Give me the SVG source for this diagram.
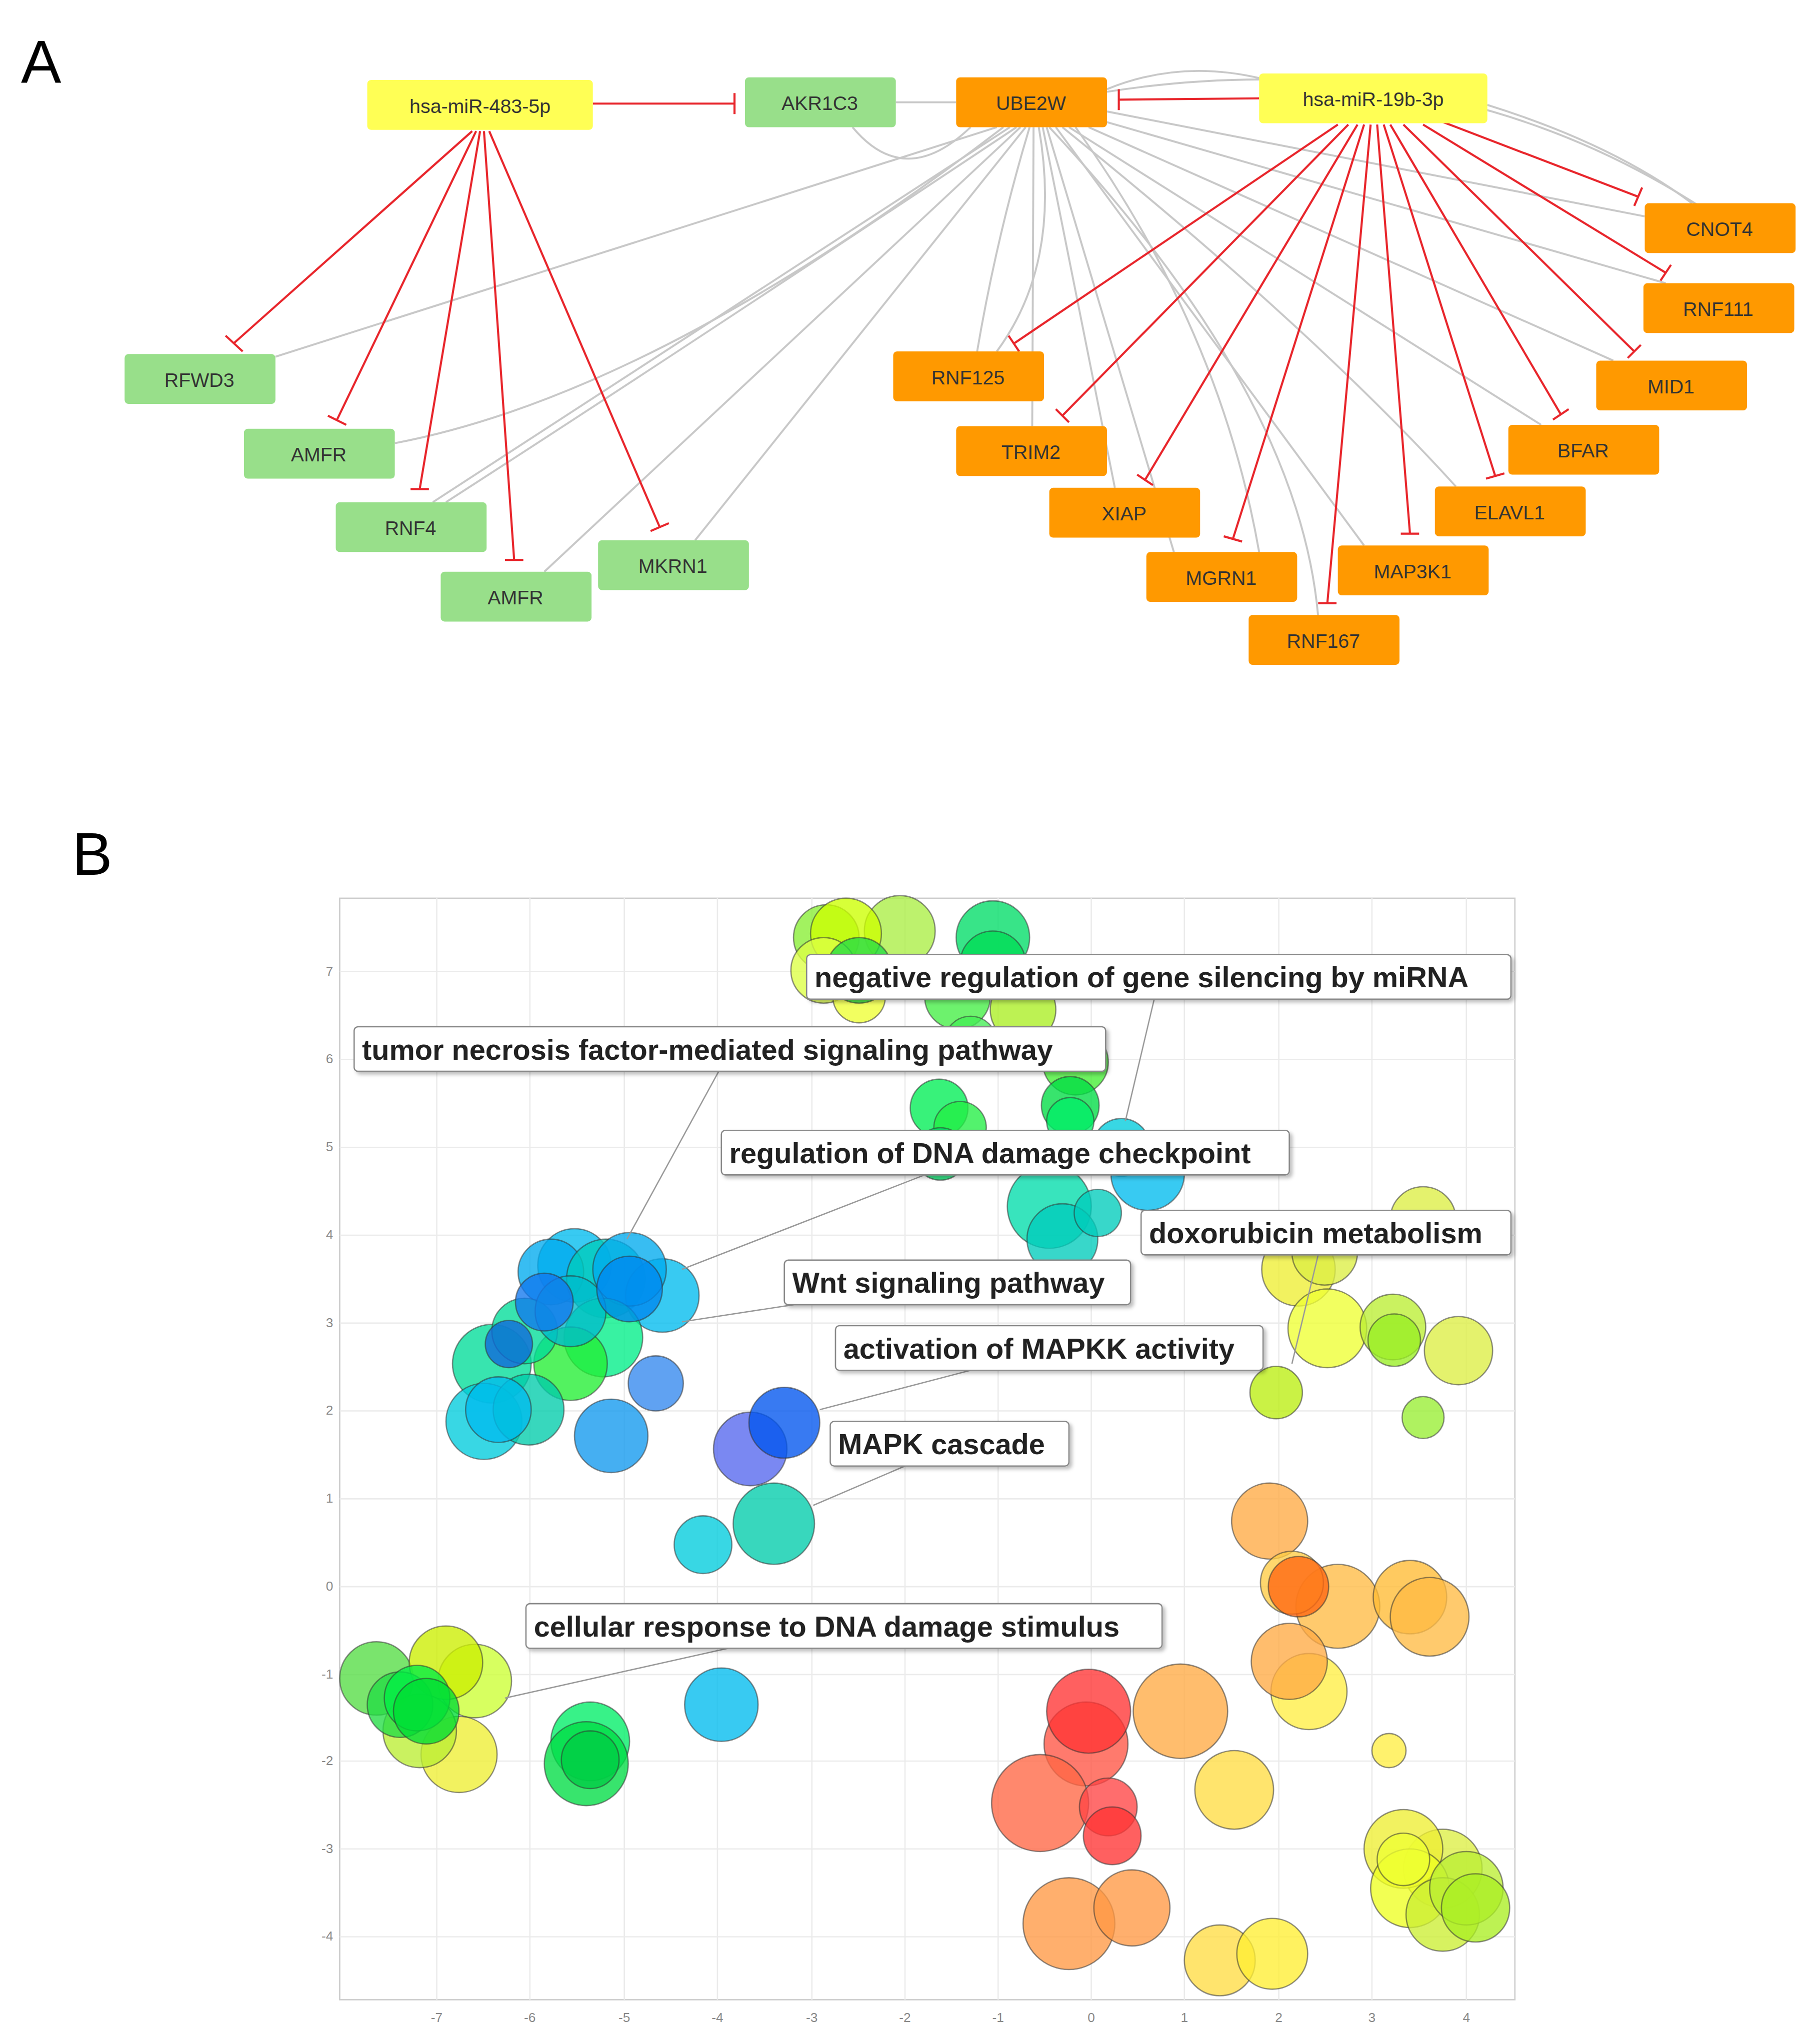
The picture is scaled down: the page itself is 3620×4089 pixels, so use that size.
<svg xmlns="http://www.w3.org/2000/svg" width="3620" height="4089" viewBox="0 0 3620 4089">
<defs>
<style>
.n rect{rx:3;}
.g rect{fill:#98df8a}
.o rect{fill:#ff9900}
.y rect{fill:#ffff55}
.n text{font-family:"Liberation Sans",Arial,sans-serif;font-size:15px;fill:#333;text-anchor:middle}
.gr{stroke:#c8c8c8;stroke-width:1.5;fill:none}
.rd{stroke:#e8262c;stroke-width:1.6;fill:none}
.lbl rect{fill:#fff;stroke:#888;stroke-width:1;rx:3}
.lbl text{font-family:"Liberation Sans",Arial,sans-serif;font-weight:bold;font-size:22px;fill:#222}
.ld{stroke:#999;stroke-width:1}
.b circle{stroke:#333;stroke-opacity:.55;stroke-width:1;fill-opacity:.78}
.tk{font-family:"Liberation Sans",Arial,sans-serif;font-size:10px;fill:#888}
.grid line{stroke:#ebebeb;stroke-width:1}
.big{font-family:"Liberation Sans",Arial,sans-serif;font-size:46px;fill:#000}
</style>
<filter id="sh" x="-5%" y="-20%" width="110%" height="150%"><feDropShadow dx="2" dy="2" stdDeviation="1.5" flood-color="#000" flood-opacity=".25"/></filter>
</defs>
<rect width="3620" height="4089" fill="#fff"/>
<g transform="scale(2.6232)">
<text class="big" x="16" y="63">A</text>
<text class="big" x="55" y="667">B</text>

<g id="connectors">
<g class="gr">
<path d="M683,78 L729,78"/>
<path d="M650,97 Q690,145 740,97"/>
<path d="M760,97 L210,272"/>
<path d="M765,97 Q500,300 301,338"/>
<path d="M770,97 L330,383"/>
<path d="M775,97 Q500,280 340,383"/>
<path d="M778,97 L415,436"/>
<path d="M782,97 L530,412"/>
<path d="M785,97 Q760,180 745,268"/>
<path d="M788,97 L787,325"/>
<path d="M792,97 Q810,200 760,268"/>
<path d="M795,97 L850,372"/>
<path d="M798,97 L895,421"/>
<path d="M800,97 Q990,300 1005,470"/>
<path d="M805,97 L1040,416"/>
<path d="M810,97 Q1000,250 1110,371"/>
<path d="M815,97 L1175,324"/>
<path d="M830,97 L1230,275"/>
<path d="M840,92 L1270,216"/>
<path d="M844,85 L1254,165"/>
<path d="M844,68 Q900,45 962,60"/>
<path d="M844,70 Q1100,30 1300,160"/>
<path d="M1134,80 Q1230,110 1290,155"/>
<path d="M820,97 Q930,250 960,421"/>
</g>
<g class="rd">
<path d="M452,79 L560,79 M560,71 L560,87"/>
<path d="M360,100 L178,262 M172,256 L185,268"/>
<path d="M363,100 L257,320 M250,317 L264,324"/>
<path d="M366,100 L320,373 M313,373 L327,373"/>
<path d="M369,100 L392,427 M385,427 L399,427"/>
<path d="M373,100 L503,402 M496,405 L510,399"/>
<path d="M960,75 L853,76 M853,68 L853,84"/>
<path d="M1020,95 L773,262 M769,256 L777,268"/>
<path d="M1028,95 L810,317 M805,312 L815,322"/>
<path d="M1035,95 L873,366 M867,362 L879,370"/>
<path d="M1040,95 L940,411 M933,409 L947,413"/>
<path d="M1045,95 L1012,460 M1005,460 L1019,460"/>
<path d="M1050,95 L1075,407 M1068,407 L1082,407"/>
<path d="M1055,95 L1140,363 M1133,365 L1147,361"/>
<path d="M1060,95 L1190,316 M1184,320 L1196,312"/>
<path d="M1070,95 L1246,268 M1241,273 L1251,263"/>
<path d="M1085,95 L1270,208 M1266,214 L1274,202"/>
<path d="M1100,93 L1249,150 M1246,157 L1252,143"/>
</g>
</g>

<g id="n-mir483" class="n y"><rect x="280" y="61" width="172" height="38"/><text x="366" y="86">hsa-miR-483-5p</text></g>
<g id="n-akr1c3" class="n g"><rect x="568" y="59" width="115" height="38"/><text x="625" y="84">AKR1C3</text></g>
<g id="n-ube2w" class="n o"><rect x="729" y="59" width="115" height="38"/><text x="786" y="84">UBE2W</text></g>
<g id="n-mir19b" class="n y"><rect x="960" y="56" width="174" height="38"/><text x="1047" y="81">hsa-miR-19b-3p</text></g>
<g id="n-rfwd3" class="n g"><rect x="95" y="270" width="115" height="38"/><text x="152" y="295">RFWD3</text></g>
<g id="n-amfr1" class="n g"><rect x="186" y="327" width="115" height="38"/><text x="243" y="352">AMFR</text></g>
<g id="n-rnf4" class="n g"><rect x="256" y="383" width="115" height="38"/><text x="313" y="408">RNF4</text></g>
<g id="n-amfr2" class="n g"><rect x="336" y="436" width="115" height="38"/><text x="393" y="461">AMFR</text></g>
<g id="n-mkrn1" class="n g"><rect x="456" y="412" width="115" height="38"/><text x="513" y="437">MKRN1</text></g>
<g id="n-cnot4" class="n o"><rect x="1254" y="155" width="115" height="38"/><text x="1311" y="180">CNOT4</text></g>
<g id="n-rnf111" class="n o"><rect x="1253" y="216" width="115" height="38"/><text x="1310" y="241">RNF111</text></g>
<g id="n-mid1" class="n o"><rect x="1217" y="275" width="115" height="38"/><text x="1274" y="300">MID1</text></g>
<g id="n-bfar" class="n o"><rect x="1150" y="324" width="115" height="38"/><text x="1207" y="349">BFAR</text></g>
<g id="n-elavl1" class="n o"><rect x="1094" y="371" width="115" height="38"/><text x="1151" y="396">ELAVL1</text></g>
<g id="n-map3k1" class="n o"><rect x="1020" y="416" width="115" height="38"/><text x="1077" y="441">MAP3K1</text></g>
<g id="n-rnf167" class="n o"><rect x="952" y="469" width="115" height="38"/><text x="1009" y="494">RNF167</text></g>
<g id="n-mgrn1" class="n o"><rect x="874" y="421" width="115" height="38"/><text x="931" y="446">MGRN1</text></g>
<g id="n-xiap" class="n o"><rect x="800" y="372" width="115" height="38"/><text x="857" y="397">XIAP</text></g>
<g id="n-trim2" class="n o"><rect x="729" y="325" width="115" height="38"/><text x="786" y="350">TRIM2</text></g>
<g id="n-rnf125" class="n o"><rect x="681" y="268" width="115" height="38"/><text x="738" y="293">RNF125</text></g>

<g id="plot">
<rect x="259" y="685" width="896" height="840" fill="#fff" stroke="#ccc" stroke-width="1"/>
<g class="grid">
<line x1="333" y1="685" x2="333" y2="1525"/><line x1="404" y1="685" x2="404" y2="1525"/><line x1="476" y1="685" x2="476" y2="1525"/><line x1="547" y1="685" x2="547" y2="1525"/><line x1="619" y1="685" x2="619" y2="1525"/><line x1="690" y1="685" x2="690" y2="1525"/><line x1="761" y1="685" x2="761" y2="1525"/><line x1="832" y1="685" x2="832" y2="1525"/><line x1="903" y1="685" x2="903" y2="1525"/><line x1="975" y1="685" x2="975" y2="1525"/><line x1="1046" y1="685" x2="1046" y2="1525"/><line x1="1118" y1="685" x2="1118" y2="1525"/>
<line x1="259" y1="741" x2="1155" y2="741"/><line x1="259" y1="808" x2="1155" y2="808"/><line x1="259" y1="875" x2="1155" y2="875"/><line x1="259" y1="942" x2="1155" y2="942"/><line x1="259" y1="1009" x2="1155" y2="1009"/><line x1="259" y1="1076" x2="1155" y2="1076"/><line x1="259" y1="1143" x2="1155" y2="1143"/><line x1="259" y1="1210" x2="1155" y2="1210"/><line x1="259" y1="1277" x2="1155" y2="1277"/><line x1="259" y1="1343" x2="1155" y2="1343"/><line x1="259" y1="1410" x2="1155" y2="1410"/><line x1="259" y1="1477" x2="1155" y2="1477"/>
</g>
<g class="tk" text-anchor="end">
<text x="254" y="744">7</text><text x="254" y="811">6</text><text x="254" y="878">5</text><text x="254" y="945">4</text><text x="254" y="1012">3</text><text x="254" y="1079">2</text><text x="254" y="1146">1</text><text x="254" y="1213">0</text><text x="254" y="1280">-1</text><text x="254" y="1346">-2</text><text x="254" y="1413">-3</text><text x="254" y="1480">-4</text>
</g>
<g class="tk" text-anchor="middle">
<text x="333" y="1542">-7</text><text x="404" y="1542">-6</text><text x="476" y="1542">-5</text><text x="547" y="1542">-4</text><text x="619" y="1542">-3</text><text x="690" y="1542">-2</text><text x="761" y="1542">-1</text><text x="832" y="1542">0</text><text x="903" y="1542">1</text><text x="975" y="1542">2</text><text x="1046" y="1542">3</text><text x="1118" y="1542">4</text>
</g>
<g class="b">
<circle cx="630" cy="715" r="25" fill="#88ee33"/><circle cx="686" cy="710" r="27" fill="#aaee44"/><circle cx="645" cy="712" r="27" fill="#ccff00"/><circle cx="628" cy="740" r="25" fill="#ddff44"/><circle cx="655" cy="760" r="20" fill="#eeff33"/><circle cx="655" cy="740" r="25" fill="#22dd44"/><circle cx="757" cy="715" r="28" fill="#00dd66"/><circle cx="757" cy="735" r="25" fill="#00dd55"/><circle cx="730" cy="760" r="25" fill="#44ee44"/><circle cx="780" cy="770" r="25" fill="#aaee22"/><circle cx="740" cy="795" r="20" fill="#44ee55"/><circle cx="820" cy="810" r="25" fill="#44ee33"/><circle cx="716" cy="845" r="22" fill="#00ee55"/><circle cx="732" cy="860" r="20" fill="#22ee44"/><circle cx="816" cy="843" r="22" fill="#00dd44"/><circle cx="816" cy="855" r="18" fill="#00ee66"/><circle cx="717" cy="880" r="20" fill="#00dd66"/><circle cx="855" cy="875" r="22" fill="#00ccdd"/><circle cx="875" cy="895" r="28" fill="#00bbee"/><circle cx="800" cy="920" r="32" fill="#00ddaa"/><circle cx="810" cy="945" r="27" fill="#00ccbb"/><circle cx="837" cy="925" r="18" fill="#00ccbb"/>
<circle cx="438" cy="965" r="28" fill="#00bbee"/><circle cx="420" cy="970" r="25" fill="#00aaee"/><circle cx="462" cy="975" r="30" fill="#00ccbb"/><circle cx="505" cy="988" r="28" fill="#00bbee"/><circle cx="480" cy="968" r="28" fill="#00aaee"/><circle cx="460" cy="1020" r="30" fill="#00ee88"/><circle cx="435" cy="1040" r="28" fill="#22ee33"/><circle cx="375" cy="1040" r="30" fill="#00dd99"/><circle cx="400" cy="1015" r="25" fill="#00dd99"/><circle cx="435" cy="1000" r="27" fill="#00bbcc"/><circle cx="415" cy="993" r="22" fill="#1177ee"/><circle cx="480" cy="983" r="25" fill="#0088ee"/><circle cx="388" cy="1025" r="18" fill="#1166dd"/><circle cx="369" cy="1084" r="29" fill="#00ccdd"/><circle cx="403" cy="1075" r="27" fill="#00ccaa"/><circle cx="380" cy="1075" r="25" fill="#00bbee"/><circle cx="500" cy="1055" r="21" fill="#3388ee"/><circle cx="466" cy="1095" r="28" fill="#1199ee"/>
<circle cx="572" cy="1105" r="28" fill="#5566ee"/><circle cx="598" cy="1085" r="27" fill="#0055ee"/><circle cx="590" cy="1162" r="31" fill="#00ccaa"/><circle cx="536" cy="1178" r="22" fill="#00ccdd"/><circle cx="550" cy="1300" r="28" fill="#00bbee"/>
<circle cx="287" cy="1280" r="28" fill="#55dd44"/><circle cx="362" cy="1282" r="28" fill="#ccff33"/><circle cx="340" cy="1268" r="28" fill="#ccee00"/><circle cx="350" cy="1338" r="29" fill="#eeee33"/><circle cx="320" cy="1320" r="28" fill="#bbee33"/><circle cx="305" cy="1300" r="25" fill="#22dd44"/><circle cx="318" cy="1295" r="25" fill="#00ee44"/><circle cx="325" cy="1305" r="25" fill="#00dd33"/><circle cx="450" cy="1328" r="30" fill="#00ee66"/><circle cx="447" cy="1345" r="32" fill="#00dd44"/><circle cx="450" cy="1342" r="22" fill="#00cc44"/>
<circle cx="1085" cy="930" r="25" fill="#ddee44"/><circle cx="990" cy="968" r="28" fill="#eeee33"/><circle cx="1010" cy="955" r="25" fill="#ddee44"/><circle cx="1012" cy="1013" r="30" fill="#eeff33"/><circle cx="1112" cy="1030" r="26" fill="#ddee44"/><circle cx="1062" cy="1012" r="25" fill="#bbee33"/><circle cx="1063" cy="1022" r="20" fill="#99ee22"/><circle cx="973" cy="1062" r="20" fill="#bbee11"/><circle cx="1085" cy="1081" r="16" fill="#99ee33"/>
<circle cx="968" cy="1160" r="29" fill="#ffaa44"/><circle cx="1020" cy="1225" r="32" fill="#ffbb44"/><circle cx="985" cy="1207" r="24" fill="#ffcc44"/><circle cx="990" cy="1210" r="23" fill="#ff6611"/><circle cx="1075" cy="1218" r="28" fill="#ffbb33"/><circle cx="1090" cy="1233" r="30" fill="#ffbb44"/><circle cx="998" cy="1290" r="29" fill="#ffee44"/><circle cx="983" cy="1267" r="29" fill="#ffaa44"/><circle cx="1059" cy="1335" r="13" fill="#ffee44"/>
<circle cx="900" cy="1305" r="36" fill="#ffaa44"/><circle cx="828" cy="1330" r="32" fill="#ff5544"/><circle cx="793" cy="1375" r="37" fill="#ff6644"/><circle cx="830" cy="1305" r="32" fill="#ff3333"/><circle cx="845" cy="1378" r="22" fill="#ff4444"/><circle cx="848" cy="1400" r="22" fill="#ff3333"/><circle cx="941" cy="1365" r="30" fill="#ffdd44"/>
<circle cx="815" cy="1467" r="35" fill="#ff9944"/><circle cx="863" cy="1455" r="29" fill="#ff9944"/><circle cx="930" cy="1495" r="27" fill="#ffdd44"/><circle cx="970" cy="1490" r="27" fill="#ffee33"/>
<circle cx="1100" cy="1425" r="30" fill="#ddee44"/><circle cx="1070" cy="1410" r="30" fill="#eeee33"/><circle cx="1075" cy="1440" r="30" fill="#eeff22"/><circle cx="1100" cy="1460" r="28" fill="#ccee33"/><circle cx="1118" cy="1440" r="28" fill="#bbee33"/><circle cx="1070" cy="1418" r="20" fill="#eeff33"/><circle cx="1125" cy="1455" r="26" fill="#aaee22"/>
</g>
<g class="ld">
<line x1="880" y1="762" x2="858" y2="855"/><line x1="548" y1="817" x2="478" y2="945"/><line x1="705" y1="896" x2="520" y2="968"/><line x1="605" y1="995" x2="520" y2="1008"/><line x1="740" y1="1045" x2="625" y2="1075"/><line x1="690" y1="1118" x2="620" y2="1148"/><line x1="555" y1="1257" x2="385" y2="1295"/><line x1="1005" y1="957" x2="985" y2="1040"/>
</g>
<g class="lbl">
<rect x="615" y="728" width="537" height="34" filter="url(#sh)"/><text x="621" y="753">negative regulation of gene silencing by miRNA</text>
<rect x="270" y="783" width="573" height="34" filter="url(#sh)"/><text x="276" y="808">tumor necrosis factor-mediated signaling pathway</text>
<rect x="550" y="862" width="433" height="34" filter="url(#sh)"/><text x="556" y="887">regulation of DNA damage checkpoint</text>
<rect x="870" y="923" width="282" height="34" filter="url(#sh)"/><text x="876" y="948">doxorubicin metabolism</text>
<rect x="598" y="961" width="264" height="34" filter="url(#sh)"/><text x="604" y="986">Wnt signaling pathway</text>
<rect x="637" y="1011" width="326" height="34" filter="url(#sh)"/><text x="643" y="1036">activation of MAPKK activity</text>
<rect x="633" y="1084" width="182" height="34" filter="url(#sh)"/><text x="639" y="1109">MAPK cascade</text>
<rect x="401" y="1223" width="485" height="34" filter="url(#sh)"/><text x="407" y="1248">cellular response to DNA damage stimulus</text>
</g>
</g>
</g>
</svg>
